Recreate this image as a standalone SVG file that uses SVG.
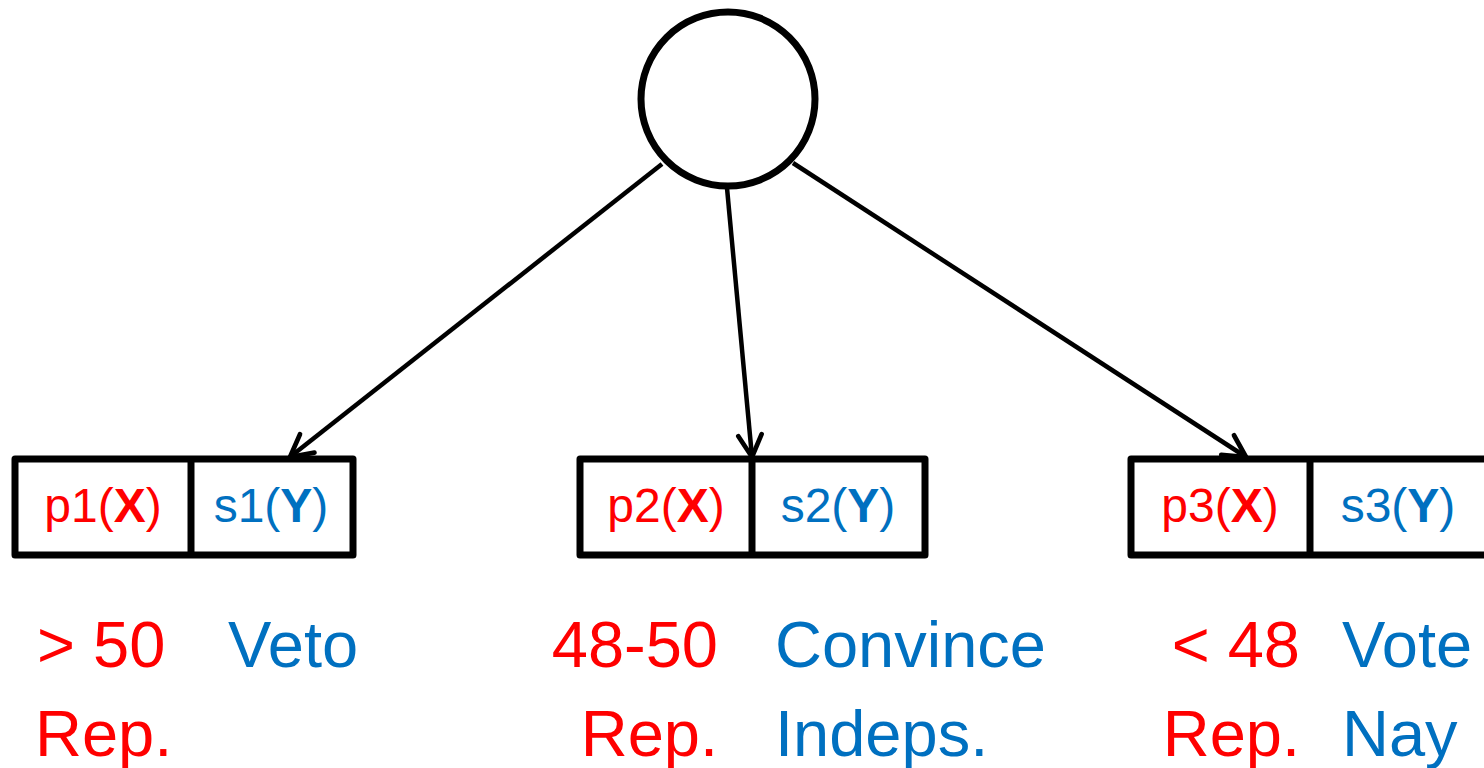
<svg xmlns="http://www.w3.org/2000/svg" width="1484" height="768" viewBox="0 0 1484 768">
<style>
.box{fill:#fff;stroke:#000;stroke-width:7;stroke-linejoin:round}
.edge{stroke:#000;stroke-width:4.5;fill:none}
.t{font-family:"Liberation Sans",Arial,sans-serif}
.lbl{font-size:48px;text-anchor:middle}
.big{font-size:65px}
.r{fill:#ff0000}
.b{fill:#0070c0}
.bold{font-weight:bold}
</style>
<defs>
<marker id="arr" viewBox="0 0 20 20" refX="17" refY="10" markerWidth="6.5" markerHeight="6.5" orient="auto" markerUnits="strokeWidth">
<path d="M2,2 L17,10 L2,18" fill="none" stroke="#000" stroke-width="3.2" stroke-linecap="round" stroke-linejoin="round"/>
</marker>
</defs>
<g id="root"><circle cx="728" cy="99" r="87" fill="#fff" stroke="#000" stroke-width="7"/></g>
<g id="connectors">
<line class="edge" x1="662" y1="164" x2="290" y2="457" marker-end="url(#arr)"/>
<line class="edge" x1="727" y1="188" x2="752" y2="457" marker-end="url(#arr)"/>
<line class="edge" x1="793" y1="163" x2="1246" y2="457" marker-end="url(#arr)"/>
</g>
<g id="node1">
<rect class="box" x="15" y="459" width="338" height="96"/>
<line x1="191" y1="459" x2="191" y2="555" stroke="#000" stroke-width="7"/>
<text class="t lbl r" x="103" y="522">p1(<tspan class="bold">X</tspan>)</text>
<text class="t lbl b" x="271" y="522">s1(<tspan class="bold">Y</tspan>)</text>
<text class="t big r" x="37" y="667">&gt; 50</text>
<text class="t big r" x="35" y="756">Rep.</text>
<text class="t big b" x="228" y="667">Veto</text>
</g>
<g id="node2">
<rect class="box" x="580" y="459" width="345" height="96"/>
<line x1="752" y1="459" x2="752" y2="555" stroke="#000" stroke-width="7"/>
<text class="t lbl r" x="666" y="522">p2(<tspan class="bold">X</tspan>)</text>
<text class="t lbl b" x="838" y="522">s2(<tspan class="bold">Y</tspan>)</text>
<text class="t big r" x="718" y="667" text-anchor="end">48-50</text>
<text class="t big r" x="718" y="756" text-anchor="end">Rep.</text>
<text class="t big b" x="775" y="667">Convince</text>
<text class="t big b" x="775" y="756">Indeps.</text>
</g>
<g id="node3">
<rect class="box" x="1131" y="459" width="360" height="96"/>
<line x1="1310" y1="459" x2="1310" y2="555" stroke="#000" stroke-width="7"/>
<text class="t lbl r" x="1220" y="522">p3(<tspan class="bold">X</tspan>)</text>
<text class="t lbl b" x="1398" y="522">s3(<tspan class="bold">Y</tspan>)</text>
<text class="t big r" x="1300" y="667" text-anchor="end">&lt; 48</text>
<text class="t big r" x="1300" y="756" text-anchor="end">Rep.</text>
<text class="t big b" x="1342" y="667">Vote</text>
<text class="t big b" x="1342" y="756">Nay</text>
</g>
</svg>
